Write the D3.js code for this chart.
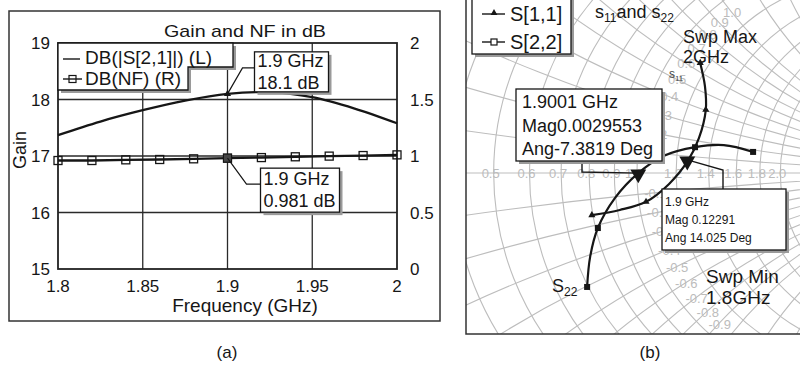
<!DOCTYPE html>
<html><head><meta charset="utf-8">
<script src="https://cdn.jsdelivr.net/npm/d3@7"></script>
<style>
html,body{margin:0;padding:0;background:#fff;}
svg{display:block;font-family:"Liberation Sans",Arial,sans-serif;}
</style></head><body>
<svg id="c" width="800" height="367"></svg>
<script>
// ---------- Panel (a) data ----------
const freqGain = [1.8, 1.825, 1.85, 1.875, 1.9, 1.925, 1.95, 1.975, 2.0];
const gainDB   = [17.37, 17.61, 17.81, 17.98, 18.10, 18.13, 18.04, 17.84, 17.58];
const freqNF   = [1.8, 1.82, 1.84, 1.86, 1.88, 1.9, 1.92, 1.94, 1.96, 1.98, 2.0];
const nfDB     = [0.960, 0.960, 0.966, 0.969, 0.975, 0.981, 0.986, 0.993, 0.999, 1.004, 1.010];
const xTicks    = [1.8, 1.85, 1.9, 1.95, 2];
const xTickText = ["1.8", "1.85", "1.9", "1.95", "2"];
const gainTicks = [15, 16, 17, 18, 19];
const nfTicks   = [0, 0.5, 1, 1.5, 2];
const nfTickText = ["0", "0.5", "1", "1.5", "2"];
const legendA   = ["DB(|S[2,1]|) (L)", "DB(NF) (R)"];
const markGainF = 1.9, markGainV = 18.1, markGainText = ["1.9 GHz", "18.1 dB"];
const markNFF = 1.9, markNFV = 0.981, markNFText = ["1.9 GHz", "0.981 dB"];

// ---------- Panel (b) data ----------
const freqS = [1.8, 1.825, 1.85, 1.875, 1.9, 1.925, 1.95, 1.975, 2.0];
const s11Re = [-0.105, -0.040, 0.021, 0.074, 0.11925, 0.144, 0.160, 0.158, 0.147];
const s11Im = [-0.098, -0.086, -0.067, -0.026, 0.02979, 0.081, 0.147, 0.202, 0.256];
const s22Re = [-0.116, -0.109, -0.091, -0.051, 0.00293, 0.063, 0.135, 0.202, 0.270];
const s22Im = [-0.265, -0.195, -0.128, -0.058, -0.00038, 0.040, 0.060, 0.065, 0.049];
const smallMarkFreqs = [1.8, 1.85, 1.95, 2.0];
const bigMarkFreq = 1.9;
const smithR = [0.1, 0.2, 0.3, 0.4, 0.5, 0.6, 0.7, 0.8, 0.9, 1.0, 1.2, 1.4, 1.6, 1.8, 2.0, 3, 4, 5, 10, 20];
const smithX = [0.1, 0.2, 0.3, 0.4, 0.5, 0.6, 0.7, 0.8, 0.9, 1.0, 1.2, 1.4, 1.6, 1.8, 2.0, 3, 4, 5, 10, 20];
const rLabels = [0.5, 0.6, 0.7, 0.8, 0.9, 1.0, 1.2, 1.4, 1.6, 1.8, 2.0];
const xLabels = [0.1, 0.2, 0.3, 0.4, 0.5, 0.6, 0.7, 0.8, 0.9, 1.0, -0.1, -0.2, -0.3, -0.4, -0.5, -0.6, -0.7, -0.8, -0.9];
const legendB = ["S[1,1]", "S[2,2]"];
const markS22Text = ["1.9001 GHz", "Mag0.0029553", "Ang-7.3819 Deg"];
const markS11Text = ["1.9 GHz", "Mag 0.12291", "Ang 14.025 Deg"];

const svg = d3.select("#c");
const INK = "#161616";
svg.append("rect").attr("width", 800).attr("height", 367).attr("fill", "#fff");

function shadowBox(g, x, y, w, h) {
  g.append("rect").attr("x", x + 3).attr("y", y + 3).attr("width", w).attr("height", h).attr("fill", "#9a9a9a");
  g.append("rect").attr("x", x).attr("y", y).attr("width", w).attr("height", h)
    .attr("fill", "#fff").attr("stroke", INK).attr("stroke-width", 1.3);
}

// ================= Panel (a) =================
const A = svg.append("g");
A.append("rect").attr("x", 9).attr("y", 11).attr("width", 431).attr("height", 310)
  .attr("fill", "none").attr("stroke", "#333").attr("stroke-width", 1.5);

const x = d3.scaleLinear().domain([1.8, 2.0]).range([58, 397]);
const yL = d3.scaleLinear().domain([15, 19]).range([269, 43]);
const yR = d3.scaleLinear().domain([0, 2]).range([269, 43]);

// grid
A.append("g").selectAll("line").data(xTicks.slice(1, -1)).join("line")
  .attr("x1", d => x(d)).attr("x2", d => x(d)).attr("y1", yL(19)).attr("y2", yL(15))
  .attr("stroke", "#2a2a2a").attr("stroke-width", 1.3);
A.append("g").selectAll("line").data(gainTicks.slice(1, -1)).join("line")
  .attr("x1", x(1.8)).attr("x2", x(2.0)).attr("y1", d => yL(d)).attr("y2", d => yL(d))
  .attr("stroke", "#2a2a2a").attr("stroke-width", 1.3);
A.append("rect").attr("x", x(1.8)).attr("y", yL(19)).attr("width", x(2.0) - x(1.8)).attr("height", yL(15) - yL(19))
  .attr("fill", "none").attr("stroke", "#222").attr("stroke-width", 1.8);

// tick labels
A.append("g").selectAll("text").data(gainTicks).join("text")
  .attr("x", 50).attr("y", d => yL(d) + 6).attr("text-anchor", "end")
  .attr("font-size", 17).attr("fill", INK).text(d => d);
A.append("g").selectAll("text").data(nfTicks).join("text")
  .attr("x", 410).attr("y", d => yR(d) + 6).attr("text-anchor", "start")
  .attr("font-size", 17).attr("fill", INK).text((d, i) => nfTickText[i]);
A.append("g").selectAll("text").data(xTicks).join("text")
  .attr("x", d => x(d)).attr("y", 292).attr("text-anchor", "middle")
  .attr("font-size", 17).attr("fill", INK).text((d, i) => xTickText[i]);

// titles
A.append("text").attr("x", 245).attr("y", 37).attr("text-anchor", "middle")
  .attr("font-size", 17).attr("textLength", 162).attr("lengthAdjust", "spacingAndGlyphs")
  .attr("fill", INK).text("Gain and NF in dB");
A.append("text").attr("x", 245).attr("y", 312).attr("text-anchor", "middle")
  .attr("font-size", 19).attr("fill", INK).text("Frequency (GHz)");
A.append("text").attr("transform", "translate(26,150) rotate(-90)").attr("text-anchor", "middle")
  .attr("font-size", 18).attr("fill", INK).text("Gain");
A.append("text").attr("x", 227).attr("y", 358).attr("text-anchor", "middle")
  .attr("font-size", 17).attr("fill", INK).text("(a)");

// curves
const gainLine = d3.line().x((d, i) => x(freqGain[i])).y(d => yL(d)).curve(d3.curveCatmullRom);
A.append("path").attr("d", gainLine(gainDB)).attr("fill", "none").attr("stroke", INK).attr("stroke-width", 2.3);
const nfLine = d3.line().x((d, i) => x(freqNF[i])).y(d => yR(d));
A.append("path").attr("d", nfLine(nfDB)).attr("fill", "none").attr("stroke", INK).attr("stroke-width", 2.3);
A.append("g").selectAll("rect").data(nfDB).join("rect")
  .attr("x", (d, i) => x(freqNF[i]) - 4).attr("y", d => yR(d) - 4)
  .attr("width", 8).attr("height", 8).attr("fill", "none").attr("stroke", INK).attr("stroke-width", 1.3);

// markers at 1.9 GHz
A.append("path").attr("d", d3.symbol(d3.symbolTriangle, 22)())
  .attr("transform", `translate(${x(markGainF)},${yL(markGainV)})`).attr("fill", INK);
A.append("rect").attr("x", x(markNFF) - 4).attr("y", yR(markNFV) - 4).attr("width", 8).attr("height", 8)
  .attr("fill", "#444").attr("stroke", INK);

// annotation 1 (gain)
{
  const px = x(markGainF), py = yL(markGainV);
  A.append("path").attr("d", d3.line()([[px, py], [px + 15, py - 26], [px + 27, py - 26]]))
    .attr("fill", "none").attr("stroke", INK).attr("stroke-width", 1.2);
  shadowBox(A, px + 27, py - 42, 74, 40);
  A.selectAll(null).data(markGainText).join("text")
    .attr("x", px + 30).attr("y", (d, i) => py - 27 + i * 22)
    .attr("font-size", 18).attr("fill", INK).text(d => d);
}
// annotation 2 (NF)
{
  const px = x(markNFF), py = yR(markNFV);
  A.append("path").attr("d", d3.line()([[px, py], [px + 19, py + 26], [px + 33, py + 26]]))
    .attr("fill", "none").attr("stroke", INK).attr("stroke-width", 1.2);
  shadowBox(A, px + 33, py + 10, 79, 44);
  A.selectAll(null).data(markNFText).join("text")
    .attr("x", px + 36).attr("y", (d, i) => py + 27 + i * 22)
    .attr("font-size", 18).attr("fill", INK).text(d => d);
}

// legend (a)
{
  const pts = [[58, 43], [233, 43], [233, 67], [188, 67], [188, 90], [58, 90]];
  A.append("path").attr("d", d3.line()(pts.map(p => [p[0] + 3, p[1] + 3])) + "Z").attr("fill", "#9a9a9a");
  A.append("path").attr("d", d3.line()(pts) + "Z").attr("fill", "#fff").attr("stroke", INK).attr("stroke-width", 1.3);
  A.append("line").attr("x1", 63).attr("x2", 80).attr("y1", 59).attr("y2", 59).attr("stroke", INK).attr("stroke-width", 1.4);
  A.append("line").attr("x1", 63).attr("x2", 82).attr("y1", 79).attr("y2", 79).attr("stroke", INK).attr("stroke-width", 1.4);
  A.append("rect").attr("x", 69).attr("y", 75.5).attr("width", 7).attr("height", 7).attr("fill", "none").attr("stroke", INK).attr("stroke-width", 1.2);
  A.selectAll(null).data(legendA).join("text")
    .attr("x", 85).attr("y", (d, i) => 64 + i * 21)
    .attr("font-size", 19).attr("fill", INK).text(d => d);
}

// ================= Panel (b) =================
const B = svg.append("g");
const defs = svg.append("defs");
defs.append("clipPath").attr("id", "clipB").append("rect").attr("x", 466).attr("y", -10).attr("width", 400).attr("height", 344);
const cx = 637, cy = 173, Rpx = 430;
defs.append("clipPath").attr("id", "clipU").append("circle").attr("cx", cx).attr("cy", cy).attr("r", Rpx);
const gx = d3.scaleLinear().domain([-1, 1]).range([cx - Rpx, cx + Rpx]);
const gy = d3.scaleLinear().domain([-1, 1]).range([cy + Rpx, cy - Rpx]);

function zToG(r, xx) { // Gamma = (z-1)/(z+1)
  const ar = r - 1, ai = xx, br = r + 1, bi = xx;
  const den = br * br + bi * bi;
  return [(ar * br + ai * bi) / den, (ai * br - ar * bi) / den];
}

const clipB = B.append("g").attr("clip-path", "url(#clipB)");
const grid = clipB.append("g").attr("clip-path", "url(#clipU)")
  .attr("fill", "none").attr("stroke", "#bdbdbd").attr("stroke-width", 1.1);
grid.selectAll("circle.r").data(smithR).join("circle").attr("class", "r")
  .attr("cx", d => gx(d / (1 + d))).attr("cy", gy(0)).attr("r", d => gx(1 / (1 + d)) - gx(0));
const xs = smithX.concat(smithX.map(v => -v));
grid.selectAll("circle.x").data(xs).join("circle").attr("class", "x")
  .attr("cx", gx(1)).attr("cy", d => gy(1 / d)).attr("r", d => Rpx / Math.abs(d));
grid.append("line").attr("x1", gx(-1)).attr("x2", gx(1)).attr("y1", gy(0)).attr("y2", gy(0));
grid.append("circle").attr("cx", gx(0)).attr("cy", gy(0)).attr("r", Rpx);

// grid labels
clipB.append("g").selectAll("text").data(rLabels).join("text")
  .attr("x", d => gx((d - 1) / (d + 1)) - 3).attr("y", gy(0) + 5).attr("text-anchor", "middle")
  .attr("font-size", 13).attr("fill", "#bcbcbc").text(d => d.toFixed(1));
clipB.append("g").selectAll("text").data(xLabels).join("text")
  .attr("x", d => gx(zToG(1.08, d)[0]) + 1).attr("y", d => gy(zToG(1.08, d)[1]) + 5)
  .attr("text-anchor", "middle").attr("font-size", 13).attr("fill", "#bcbcbc").text(d => d.toFixed(1));

// frame
B.append("rect").attr("x", 466).attr("y", -5).attr("width", 345).attr("height", 339)
  .attr("fill", "none").attr("stroke", "#333").attr("stroke-width", 1.5);

// traces
const sLine = d3.line().x(d => gx(d[0])).y(d => gy(d[1])).curve(d3.curveCatmullRom);
const s11 = freqS.map((f, i) => [s11Re[i], s11Im[i], f]);
const s22 = freqS.map((f, i) => [s22Re[i], s22Im[i], f]);
clipB.append("path").attr("d", sLine(s11)).attr("fill", "none").attr("stroke", INK).attr("stroke-width", 2.2);
clipB.append("path").attr("d", sLine(s22)).attr("fill", "none").attr("stroke", INK).attr("stroke-width", 2.2);
clipB.append("g").selectAll("path").data(s11.filter(d => smallMarkFreqs.includes(d[2]))).join("path")
  .attr("d", d3.symbol(d3.symbolTriangle, 22)()).attr("transform", d => `translate(${gx(d[0])},${gy(d[1])})`).attr("fill", INK);
clipB.append("g").selectAll("rect").data(s22.filter(d => smallMarkFreqs.includes(d[2]))).join("rect")
  .attr("x", d => gx(d[0]) - 3).attr("y", d => gy(d[1]) - 3).attr("width", 6).attr("height", 6).attr("fill", INK);

// text labels on chart
B.append("text").attr("x", 595).attr("y", 18).attr("font-size", 18).attr("fill", INK)
  .call(t => {
    t.append("tspan").text("s");
    t.append("tspan").attr("font-size", 12).attr("dy", 4).text("11");
    t.append("tspan").attr("dy", -4).text("and s");
    t.append("tspan").attr("font-size", 12).attr("dy", 4).text("22");
  });
B.append("text").attr("x", 683).attr("y", 43).attr("font-size", 18).attr("fill", INK).text("Swp Max");
B.append("text").attr("x", 683).attr("y", 63).attr("font-size", 18).attr("fill", INK).text("2GHz");
B.append("text").attr("x", 669).attr("y", 78).attr("font-size", 12).attr("fill", "#444")
  .call(t => { t.append("tspan").text("s"); t.append("tspan").attr("font-size", 8).attr("dy", 3).text("11"); });
B.append("text").attr("x", 706).attr("y", 283).attr("font-size", 19).attr("fill", INK).text("Swp Min");
B.append("text").attr("x", 706).attr("y", 304).attr("font-size", 19).attr("fill", INK).text("1.8GHz");
B.append("text").attr("x", 552).attr("y", 292).attr("font-size", 18).attr("fill", INK)
  .call(t => { t.append("tspan").text("S"); t.append("tspan").attr("font-size", 12).attr("dy", 4).text("22"); });
B.append("text").attr("x", 650).attr("y", 358).attr("text-anchor", "middle").attr("font-size", 17).attr("fill", INK).text("(b)");

// marker annotations
const iBig = freqS.indexOf(bigMarkFreq);
{
  const px = gx(s22Re[iBig]), py = gy(s22Im[iBig]);
  B.append("path").attr("d", d3.line()([[582, 161], [582, 172], [px, py]]))
    .attr("fill", "none").attr("stroke", INK).attr("stroke-width", 1.4);
  B.append("path").attr("d", d3.symbol(d3.symbolTriangle, 110)())
    .attr("transform", `translate(${px},${py + 1}) rotate(180)`).attr("fill", INK);
  shadowBox(B, 516, 89, 146, 72);
  B.selectAll(null).data(markS22Text).join("text")
    .attr("x", 522).attr("y", (d, i) => 108 + i * 23.5).attr("font-size", 18).attr("fill", INK).text(d => d);
}
{
  const px = gx(s11Re[iBig]), py = gy(s11Im[iBig]);
  B.append("path").attr("d", d3.line()([[px, py], [723, 170], [723, 189]]))
    .attr("fill", "none").attr("stroke", INK).attr("stroke-width", 1.4);
  B.append("path").attr("d", d3.symbol(d3.symbolTriangle, 110)())
    .attr("transform", `translate(${px - 1},${py + 1}) rotate(180)`).attr("fill", INK);
  shadowBox(B, 662, 189, 124, 61);
  B.selectAll(null).data(markS11Text).join("text")
    .attr("x", 665).attr("y", (d, i) => 206 + i * 18).attr("font-size", 12).attr("fill", INK).text(d => d);
}

// legend (b)
{
  shadowBox(B, 472, -5, 99, 59);
  B.append("line").attr("x1", 482).attr("x2", 505).attr("y1", 14).attr("y2", 14).attr("stroke", INK).attr("stroke-width", 1.4);
  B.append("path").attr("d", d3.symbol(d3.symbolTriangle, 20)()).attr("transform", "translate(494,13)").attr("fill", INK);
  B.append("line").attr("x1", 482).attr("x2", 505).attr("y1", 42).attr("y2", 42).attr("stroke", INK).attr("stroke-width", 1.4);
  B.append("rect").attr("x", 491).attr("y", 39).attr("width", 6).attr("height", 6).attr("fill", "#fff").attr("stroke", INK).attr("stroke-width", 1.2);
  B.selectAll(null).data(legendB).join("text")
    .attr("x", 510).attr("y", (d, i) => 20.5 + i * 28.5).attr("font-size", 20).attr("fill", INK).text(d => d);
}
</script>
</body></html>
